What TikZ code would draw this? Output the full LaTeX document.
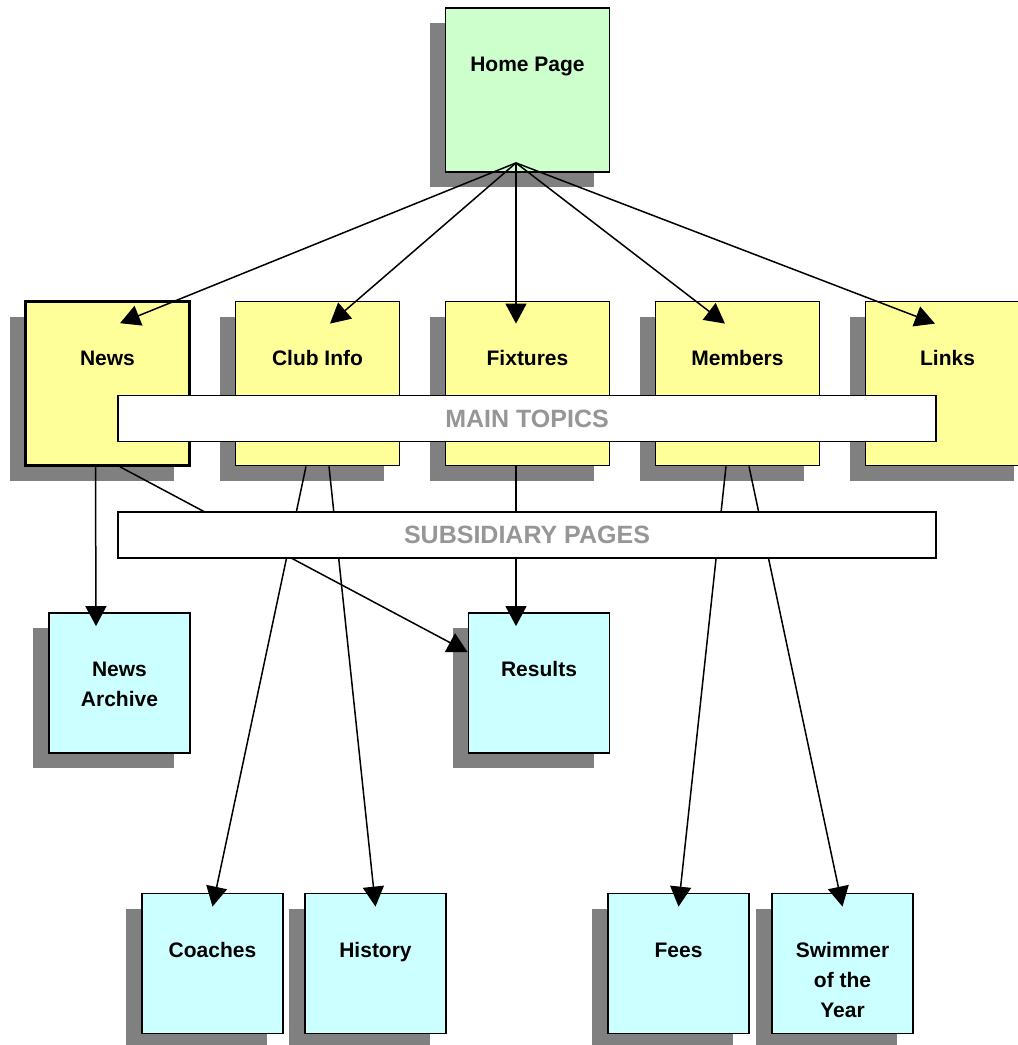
\documentclass[tikz,border=0pt]{standalone}
\usepackage{fontspec}
\setmainfont{Liberation Sans}
\usetikzlibrary{arrows.meta, shadows}
\definecolor{HomeGreen}{RGB}{204, 255, 204}
\definecolor{TopicYellow}{RGB}{255, 255, 153}
\definecolor{SubCyan}{RGB}{204, 255, 255}
\definecolor{ShadowGray}{RGB}{128, 128, 128}
\definecolor{BarGray}{RGB}{150, 150, 150}

\begin{document}
\begin{tikzpicture}[x=1pt, y=-1pt,
    page/.style={draw=black, line width=1.8pt, inner sep=0pt, align=center,
      font=\fontsize{21}{30}\selectfont\bfseries, text height=63.5pt,
      drop shadow={shadow xshift=-16pt, shadow yshift=-15pt, fill=ShadowGray, opacity=1}},
    bigpage/.style={page, minimum width=164pt, minimum height=164pt, text depth=100.5pt},
    smallpage/.style={page, fill=SubCyan, minimum width=141pt, minimum height=140pt, text depth=76.5pt},
    bar/.style={draw=black, fill=white, line width=1.8pt, minimum width=818pt, minimum height=46pt,
      font=\fontsize{25}{30}\selectfont\bfseries, text=BarGray},
    link/.style={line width=1.5pt, -{Triangle[length=20pt, width=21pt]}}]
    \useasboundingbox (0,0) rectangle (1018,1045);

    % Home page
    \node[bigpage, fill=HomeGreen] (home) at (527.5,90) {Home Page};

    % Main topics
    \node[bigpage, fill=TopicYellow, line width=2.6pt] (news) at (107.5,383.5) {News};
    \node[bigpage, fill=TopicYellow] (clubinfo) at (317.5,383.5) {Club Info};
    \node[bigpage, fill=TopicYellow] (fixtures) at (527.5,383.5) {Fixtures};
    \node[bigpage, fill=TopicYellow] (members) at (737.5,383.5) {Members};
    \node[bigpage, fill=TopicYellow] (links) at (947.5,383.5) {Links};

    % Subsidiary pages (baseline sits on the last line, so taller text height)
    \node[smallpage, text height=93.5pt, text depth=46.5pt] (archive) at (119.5,683) {News\\Archive};
    \node[smallpage] (results) at (539,683) {Results};
    \node[smallpage] (coaches) at (212.5,963.5) {Coaches};
    \node[smallpage] (history) at (375.5,963.5) {History};
    \node[smallpage] (fees) at (678.5,963.5) {Fees};
    \node[smallpage, text height=123.5pt, text depth=16.5pt] (swimmer) at (842.5,963.5) {Swimmer\\of the\\Year};

    % Home page to main topics
    \foreach \target/\dx in {news/12.5, clubinfo/12.5, fixtures/-11.5, members/-12.5, links/-12.5}
      \draw[link] ([xshift=-11.5pt, yshift=10pt]home.south) -- ([xshift=\dx pt, yshift=-23pt]\target.north);

    % Main topics to subsidiary pages
    \draw[link] ([xshift=-12pt]news.south) -- ([xshift=-23.5pt, yshift=-14pt]archive.north);
    \draw[link] ([xshift=12.5pt]news.south) -- ([yshift=31pt]results.west);
    \draw[link] ([xshift=-11.5pt]fixtures.south) -- ([xshift=-23pt, yshift=-14pt]results.north);
    \draw[link] ([xshift=-11.5pt]clubinfo.south) -- ([yshift=-14pt]coaches.north);
    \draw[link] ([xshift=11.5pt]clubinfo.south) -- ([yshift=-14pt]history.north);
    \draw[link] ([xshift=-11.5pt]members.south) -- ([yshift=-14pt]fees.north);
    \draw[link] ([xshift=11.5pt]members.south) -- ([yshift=-14pt]swimmer.north);

    % Level bars
    \node[bar] (maintopics) at (527,418.5) {MAIN TOPICS};
    \node[bar] (subsidiary) at (527,535) {SUBSIDIARY PAGES};
\end{tikzpicture}
\end{document}
